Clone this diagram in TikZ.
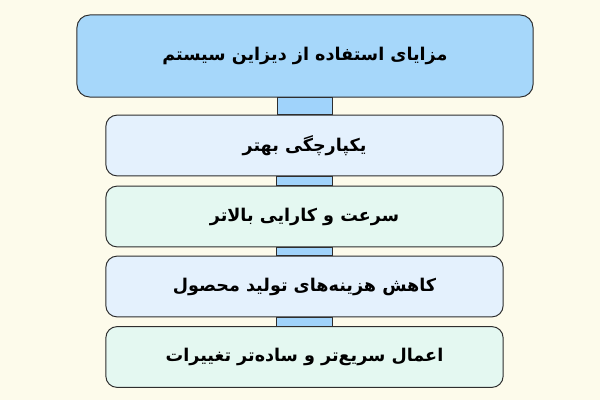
\documentclass[tikz,border=0pt]{standalone}
\usepackage{fontspec}
\newfontfamily\farsi[Script=Arabic]{DejaVu Sans}
\TeXXeTstate=1
\definecolor{bgcream}{HTML}{FDFBEB}
\definecolor{headblue}{HTML}{A6D7FA}
\definecolor{linkblue}{HTML}{A0D3FB}
\definecolor{boxblue}{HTML}{E4F1FD}
\definecolor{boxgreen}{HTML}{E4F8F1}
\definecolor{edge}{HTML}{2E2E2E}
\tikzset{
	head/.style={draw=edge, fill=headblue, line width=0.7pt, rounded corners=9pt, minimum width=11.4cm, minimum height=2.05cm, font=\farsi\bfseries\fontsize{12.5}{15}\selectfont},
	benefit/.style={draw=edge, line width=0.7pt, rounded corners=8pt, minimum width=9.93cm, minimum height=1.52cm, font=\farsi\bfseries\fontsize{12.5}{15}\selectfont},
	link/.style={draw=edge, fill=linkblue, line width=0.7pt}
}

\begin{document}
\begin{tikzpicture}[x=0.025cm, y=-0.025cm]
			%%%%% START %%%%%
			
			\fill[bgcream] (0, 0) rectangle (600, 400);
			\useasboundingbox (0, 0) rectangle (600, 400);
			
			\node[head] (title) at (305, 56) {\beginR مزایای استفاده از دیزاین سیستم\endR};
			
			\node[benefit, fill=boxblue] (unity) at (304.5, 145.5) {\beginR یکپارچگی بهتر\endR};
			\node[benefit, fill=boxgreen] (speed) at (304.5, 216.5) {\beginR سرعت و کارایی بالاتر\endR};
			\node[benefit, fill=boxblue] (cost) at (304.5, 286.5) {\beginR کاهش هزینه‌های تولید محصول\endR};
			\node[benefit, fill=boxgreen] (change) at (304.5, 357) {\beginR اعمال سریع‌تر و ساده‌تر تغییرات\endR};
			
			\draw[link] ([xshift=-0.7cm]title.south) rectangle ([xshift=0.7cm]unity.north);
			\draw[link] ([xshift=-0.7cm]unity.south) rectangle ([xshift=0.7cm]speed.north);
			\draw[link] ([xshift=-0.7cm]speed.south) rectangle ([xshift=0.7cm]cost.north);
			\draw[link] ([xshift=-0.7cm]cost.south) rectangle ([xshift=0.7cm]change.north);
			
			%%%%% END %%%%%
\end{tikzpicture}
\end{document}
